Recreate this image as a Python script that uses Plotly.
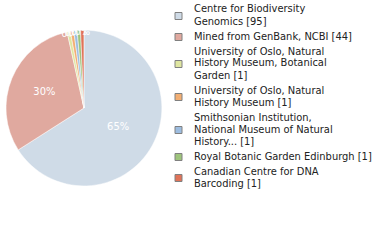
import plotly.graph_objects as go

names = [
    "Centre for Biodiversity Genomics",
    "Mined from GenBank, NCBI",
    "University of Oslo, Natural History Museum, Botanical Garden",
    "University of Oslo, Natural History Museum",
    "Smithsonian Institution, National Museum of Natural History...",
    "Royal Botanic Garden Edinburgh",
    "Canadian Centre for DNA Barcoding",
]
legend_lines = [
    ["Centre for Biodiversity", "Genomics [95]"],
    ["Mined from GenBank, NCBI [44]"],
    ["University of Oslo, Natural", "History Museum, Botanical", "Garden [1]"],
    ["University of Oslo, Natural", "History Museum [1]"],
    ["Smithsonian Institution,", "National Museum of Natural", "History... [1]"],
    ["Royal Botanic Garden Edinburgh [1]"],
    ["Canadian Centre for DNA", "Barcoding [1]"],
]
values = [95, 44, 1, 1, 1, 1, 1]
colors = ["#cfdbe7", "#e0a99f", "#dfe6a1", "#f2ae73", "#9dbde0", "#9ec47c", "#e07358"]

total = sum(values)
pct_text = [f"{int(v * 100 // total)}%" for v in values]

W, H = 380, 240
FONT = "DejaVu Sans Condensed"

fig = go.Figure(go.Pie(
    labels=names,
    values=values,
    text=pct_text,
    sort=False,
    direction="clockwise",
    rotation=0,
    marker=dict(colors=colors, line=dict(color="white", width=0.5)),
    texttemplate="%{text}",
    textposition="inside",
    insidetextorientation="horizontal",
    textfont=dict(color="white", size=11, family=FONT),
    domain=dict(x=[0.0158, 0.426], y=[0.225, 0.875]),
    hoverinfo="label+value",
    showlegend=False,
))

# Custom legend (tight line spacing like the reference)
line_pitch = 12
entry_gap = 15
box_x0, box_x1, box_half = 175, 182, 3.5
text_x = 192
y = 9
annotations = []
shapes = []
for lines, col in zip(legend_lines, colors):
    first = y
    for ln in lines:
        annotations.append(dict(
            x=text_x / W, y=1 - y / H, xref="paper", yref="paper",
            xanchor="left", yanchor="middle", showarrow=False,
            text=ln, font=dict(family=FONT, size=11, color="#222222"),
        ))
        y += line_pitch
    last = y - line_pitch
    mid = (first + last) / 2 + 1
    shapes.append(dict(
        type="rect", xref="paper", yref="paper",
        x0=box_x0 / W, x1=box_x1 / W,
        y0=1 - (mid - box_half) / H, y1=1 - (mid + box_half) / H,
        fillcolor=col, line=dict(color="#808080", width=1),
    ))
    y = last + entry_gap

fig.update_layout(
    width=W, height=H,
    margin=dict(l=0, r=0, t=0, b=0, autoexpand=False),
    paper_bgcolor="white",
    uniformtext=dict(minsize=11, mode="show"),
    annotations=annotations,
    shapes=shapes,
)

fig.write_html("out.html")
